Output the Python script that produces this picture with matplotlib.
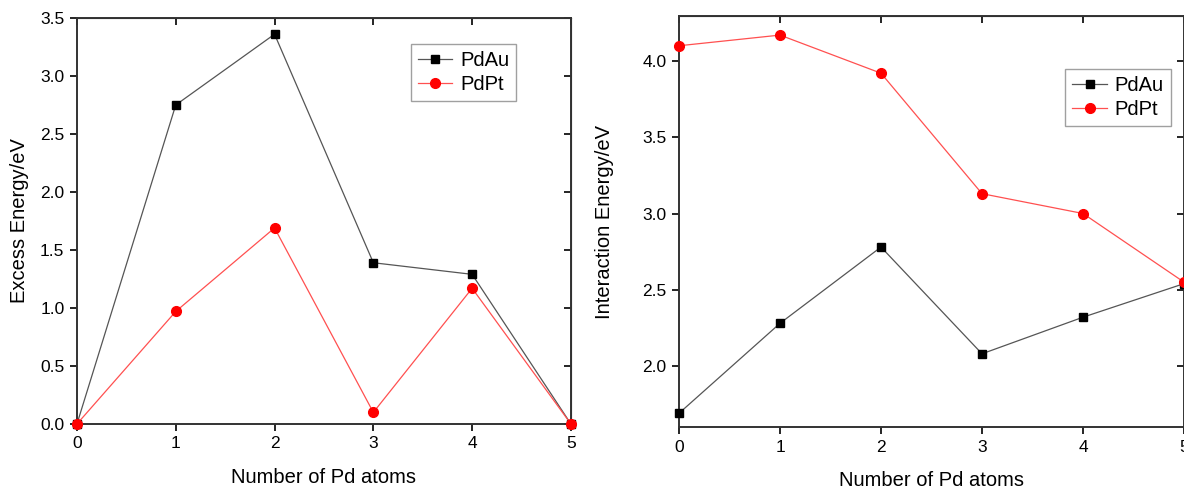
import numpy as np
import matplotlib.pyplot as plt

# -----------------------------
# Data
# -----------------------------
n_pd = [0, 1, 2, 3, 4, 5]

excess_pdau = [0.0, 2.75, 3.36, 1.39, 1.29, 0.0]
excess_pdpt = [0.0, 0.97, 1.69, 0.10, 1.17, 0.0]

inter_pdau = [1.69, 2.28, 2.78, 2.08, 2.32, 2.54]
inter_pdpt = [4.10, 4.17, 3.92, 3.13, 3.00, 2.55]

plt.rcParams['font.family'] = ['Liberation Sans', 'DejaVu Sans']

fig = plt.figure(figsize=(11.84, 4.87), dpi=100)
ax1 = fig.add_axes([0.0650, 0.1294, 0.4172, 0.8337])
ax2 = fig.add_axes([0.5735, 0.1232, 0.4265, 0.8439])


def draw(ax, au, pt):
    ax.plot(n_pd, au, color='#555555', linewidth=0.9, marker='s', markersize=6,
            markerfacecolor='black', markeredgecolor='black', label='PdAu',
            clip_on=False, zorder=3)
    ax.plot(n_pd, pt, color='#ff5050', linewidth=0.9, marker='o', markersize=7,
            markerfacecolor='#ff0000', markeredgecolor='#ff0000', label='PdPt',
            clip_on=False, zorder=3)
    for s in ax.spines.values():
        s.set_linewidth(1.4)
        s.set_color('#333333')
    ax.tick_params(direction='out', length=5, width=1.2, labelsize=12.5, pad=4)
    sec_x = ax.secondary_xaxis('top')
    sec_x.tick_params(direction='in', length=5, width=1.2, labeltop=False)
    sec_y = ax.secondary_yaxis('right')
    sec_y.tick_params(direction='in', length=5, width=1.2, labelright=False)
    return sec_x, sec_y


# -----------------------------
# Excess energy
# -----------------------------
sx, sy = draw(ax1, excess_pdau, excess_pdpt)
ax1.set_xlim(0, 5)
ax1.set_ylim(0, 3.5)
ax1.set_xticks(n_pd)
ax1.set_yticks(np.arange(0, 3.51, 0.5))
ax1.set_yticklabels([f'{v:.1f}' for v in np.arange(0, 3.51, 0.5)])
sx.set_xticks(n_pd)
sy.set_yticks(np.arange(0, 3.51, 0.5))
ax1.set_xlabel('Number of Pd atoms', fontsize=14.5, labelpad=12)
ax1.set_ylabel('Excess Energy/eV', fontsize=14.5, labelpad=8)
ax1.legend(loc='upper right', bbox_to_anchor=(0.91, 0.96), fontsize=14.5,
           frameon=True, fancybox=False, edgecolor='#888888',
           handlelength=1.7, borderpad=0.35, labelspacing=0.25, handletextpad=0.4)

# -----------------------------
# Interaction energy
# -----------------------------
sx, sy = draw(ax2, inter_pdau, inter_pdpt)
ax2.set_xlim(0, 5)
ax2.set_ylim(1.60, 4.295)
ax2.set_xticks(n_pd)
ax2.set_yticks(np.arange(2.0, 4.01, 0.5))
ax2.set_yticklabels([f'{v:.1f}' for v in np.arange(2.0, 4.01, 0.5)])
sx.set_xticks(n_pd)
sy.set_yticks(np.arange(2.0, 4.01, 0.5))
ax2.set_xlabel('Number of Pd atoms', fontsize=14.5, labelpad=12)
ax2.set_ylabel('Interaction Energy/eV', fontsize=14.5, labelpad=20)
ax2.legend(loc='upper right', bbox_to_anchor=(0.994, 0.895), fontsize=14.5,
           frameon=True, fancybox=False, edgecolor='#888888',
           handlelength=1.7, borderpad=0.35, labelspacing=0.25, handletextpad=0.4)

fig.savefig('out.png', dpi=100)
